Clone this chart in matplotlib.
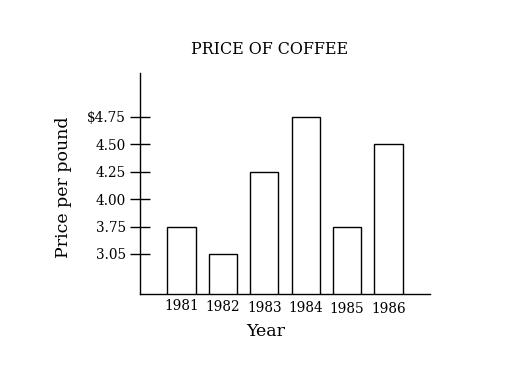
import matplotlib
matplotlib.use("Agg")
import matplotlib.pyplot as plt

years = ["1981", "1982", "1983", "1984", "1985", "1986"]
prices = [3.75, 3.50, 4.25, 4.75, 3.75, 4.50]
ytick_values = [3.50, 3.75, 4.00, 4.25, 4.50, 4.75]
ytick_labels = ["3.05", "3.75", "4.00", "4.25", "4.50", "$4.75"]
label_drops = [0, 1, 2, 3, 4, 4]

plt.rcParams['font.family'] = ['DejaVu Serif']

fig = plt.figure(figsize=(5.12, 3.65), dpi=100)
ax = fig.add_axes([140/512, 1-294/365, 290/512, 221/365])

x = list(range(len(years)))
ax.bar(x, prices, width=0.68, color='white', edgecolor='black', linewidth=1.0)
ax.set_xlim(-1, 6)
ax.set_ylim(3.135, 5.15)

ax.spines['top'].set_visible(False)
ax.spines['right'].set_visible(False)
ax.spines['left'].set_linewidth(1.0)
ax.spines['bottom'].set_linewidth(1.0)

ax.set_yticks(ytick_values)
ax.set_yticklabels(ytick_labels, fontsize=9.8)
ax.tick_params(axis='y', direction='inout', length=14, width=1.0, pad=3)
ax.set_xticks([])

for xi, lab, d in zip(x, years, label_drops):
    ax.annotate(lab, xy=(xi, 0), xycoords=('data', 'axes fraction'),
                xytext=(0, -3.3 - d * 0.7), textcoords='offset points',
                ha='center', va='top', fontsize=9.8)

fig.text(266/512, 1-331/365, "Year", ha='center', va='center', fontsize=12.5)
fig.text(64/512, 1-187/365, "Price per pound", ha='center', va='center',
         rotation=90, fontsize=12.5)
fig.text(270/512, 1-50/365, "PRICE OF COFFEE", ha='center', va='center', fontsize=11.4)

fig.savefig("out.png", dpi=100)
